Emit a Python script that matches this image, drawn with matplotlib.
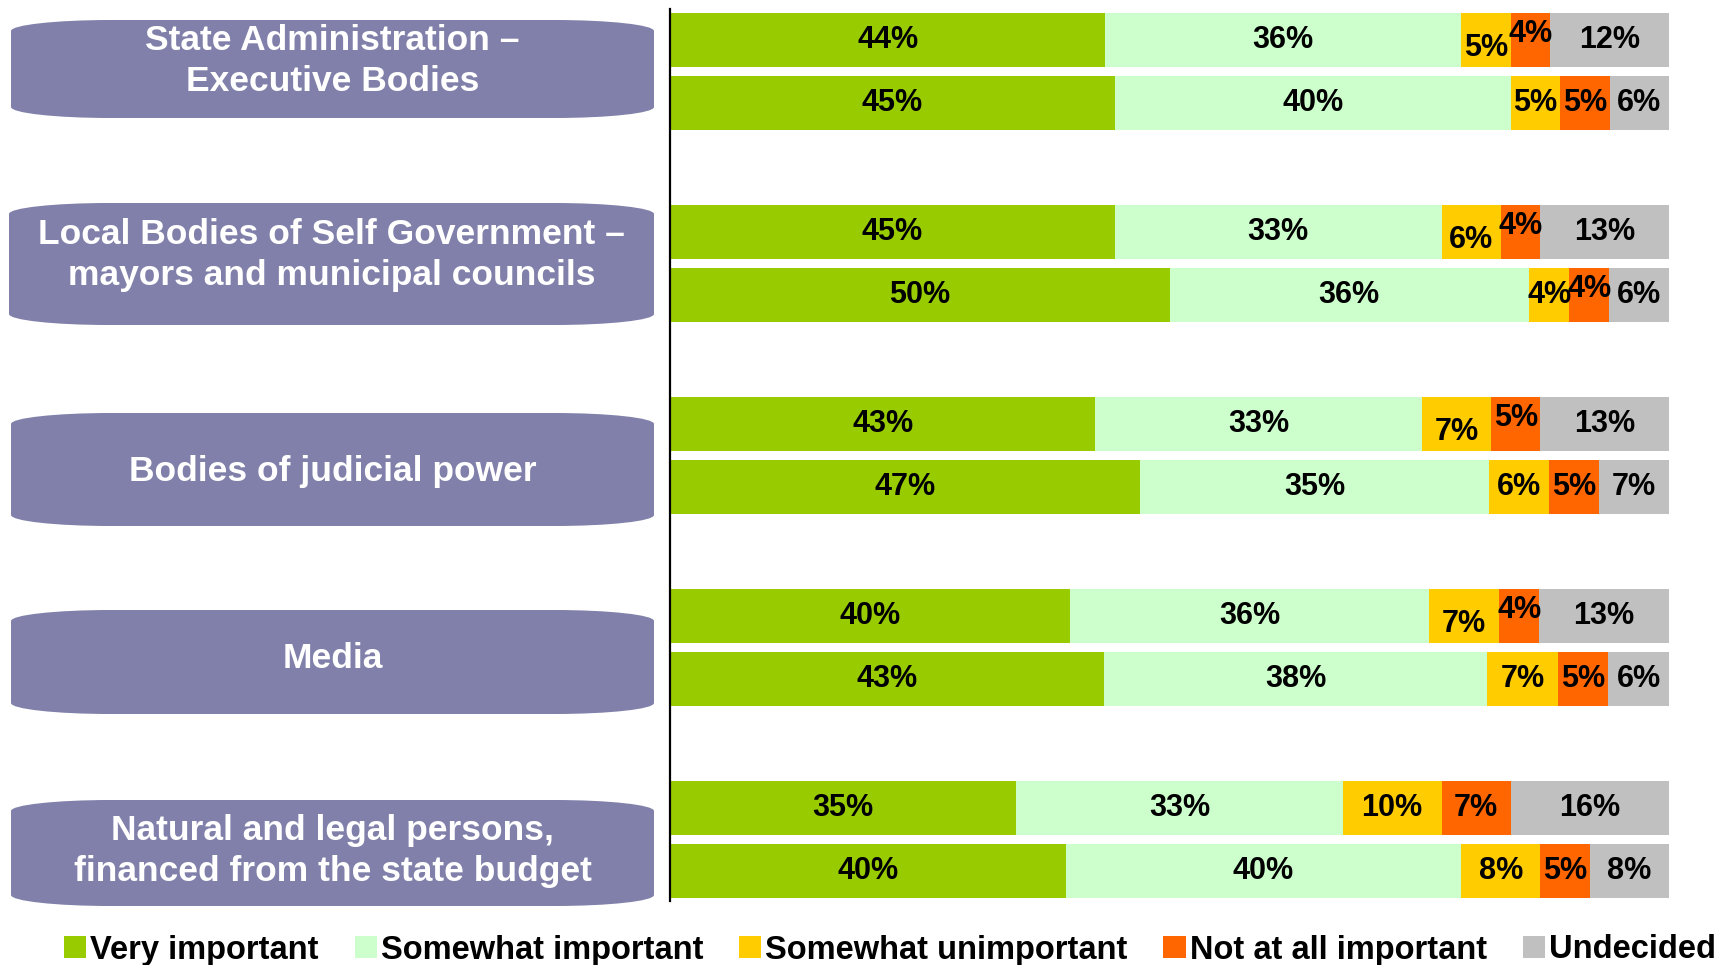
import numpy as np
import matplotlib
matplotlib.use("Agg")
import matplotlib.pyplot as plt
from matplotlib.path import Path
from matplotlib.patches import PathPatch, Patch

plt.rcParams['font.family'] = ['Liberation Sans', 'DejaVu Sans']
plt.rcParams['font.weight'] = 'bold'

# Institutions (two bars each)
groups = ["State Administration –\nExecutive Bodies",
          "Local Bodies of Self Government –\nmayors and municipal councils",
          "Bodies of judicial power",
          "Media",
          "Natural and legal persons,\nfinanced from the state budget"]

series = ["Very important", "Somewhat important", "Somewhat unimportant",
          "Not at all important", "Undecided"]

very_important = [44, 45, 45, 50, 43, 47, 40, 43, 35, 40]
somewhat_important = [36, 40, 33, 36, 33, 35, 36, 38, 33, 40]
somewhat_unimportant = [5, 5, 6, 4, 7, 6, 7, 7, 10, 8]
not_at_all = [4, 5, 4, 4, 5, 5, 4, 5, 7, 5]
undecided = [12, 6, 13, 6, 13, 7, 13, 6, 16, 8]

colors = ["#99cc00", "#ccffcc", "#ffcc00", "#ff6600", "#c0c0c0"]
box_color = "#8080aa"

W, H = 1719, 965
fig = plt.figure(figsize=(W / 100, H / 100), dpi=100)

# overlay in pixel coordinates for the label boxes
bg = fig.add_axes([0, 0, 1, 1])
bg.set_xlim(0, W)
bg.set_ylim(H, 0)
bg.axis("off")


def box_path(x0, y0, x1, y1, rx, ry):
    k = 0.5523
    verts = [(x0, y0 + ry),
             (x0, y0 + ry - k * ry), (x0 + rx - k * rx, y0), (x0 + rx, y0),
             (x1 - rx, y0),
             (x1 - rx + k * rx, y0), (x1, y0 + ry - k * ry), (x1, y0 + ry),
             (x1, y1 - ry),
             (x1, y1 - ry + k * ry), (x1 - rx + k * rx, y1), (x1 - rx, y1),
             (x0 + rx, y1),
             (x0 + rx - k * rx, y1), (x0, y1 - ry + k * ry), (x0, y1 - ry),
             (x0, y0 + ry)]
    codes = ([Path.MOVETO] + [Path.CURVE4] * 3 + [Path.LINETO] + [Path.CURVE4] * 3
             + [Path.LINETO] + [Path.CURVE4] * 3 + [Path.LINETO] + [Path.CURVE4] * 3
             + [Path.CLOSEPOLY])
    return Path(verts, codes)


# box extents (pixels) and text centre
boxes = [(11, 20, 654, 118, 61), (9, 203, 654, 325, 255), (11, 413, 654, 526, 471),
         (11, 610, 654, 714, 659), (11, 800, 654, 906, 851)]
for (x0, y0, x1, y1, ty), name in zip(boxes, groups):
    bg.add_patch(PathPatch(box_path(x0, y0, x1, y1, 100, 11), facecolor=box_color,
                           edgecolor="none"))
    bg.text((x0 + x1) / 2, ty, name, color="white", fontsize=25.5, fontweight="bold",
            ha="center", va="center", linespacing=1.27)

# bar axes
ax = fig.add_axes([670 / W, 1 - 901 / H, 999 / W, 892 / H])
ax.patch.set_alpha(0)
for s in ["top", "right", "bottom"]:
    ax.spines[s].set_visible(False)
ax.spines["left"].set_linewidth(1.6)
ax.spines["left"].set_color("black")
ax.set_xticks([])
ax.set_yticks([])

data = np.array([very_important, somewhat_important, somewhat_unimportant,
                 not_at_all, undecided], dtype=float)
shares = data / data.sum(axis=0) * 100

ypos = []
for i in range(len(groups)):
    ypos += [i + 0.161, i + 0.492]
ypos = np.array(ypos)
bar_h = 0.281

left = np.zeros(len(ypos))
for j in range(len(series)):
    ax.barh(ypos, shares[j], left=left, height=bar_h, color=colors[j],
            edgecolor="none", label=series[j])
    for r in range(len(ypos)):
        dy = 0
        top_row = r % 2 == 0 and r < 8
        if j == 2 and top_row:
            dy = 8 / 192
        elif j == 3 and (top_row or data[j][r] <= 4):
            dy = -6 / 192
        ax.text(left[r] + shares[j][r] / 2, ypos[r] + dy, f"{int(data[j][r])}%",
                ha="center", va="center", fontsize=22, fontweight="bold",
                color="black")
    left += shares[j]

ax.set_xlim(0, 100)
ax.set_ylim(892 / 192, 0)

handles = [Patch(facecolor=c, edgecolor="none") for c in colors]
fig.legend(handles, series, loc="center left", bbox_to_anchor=(64 / W, 1 - 950 / H),
           ncol=5, frameon=False, handlelength=0.68, handleheight=0.68,
           handletextpad=0.12, columnspacing=1.1, borderpad=0, borderaxespad=0,
           prop={"weight": "bold", "size": 23.5})

fig.savefig("out.png", dpi=100)
